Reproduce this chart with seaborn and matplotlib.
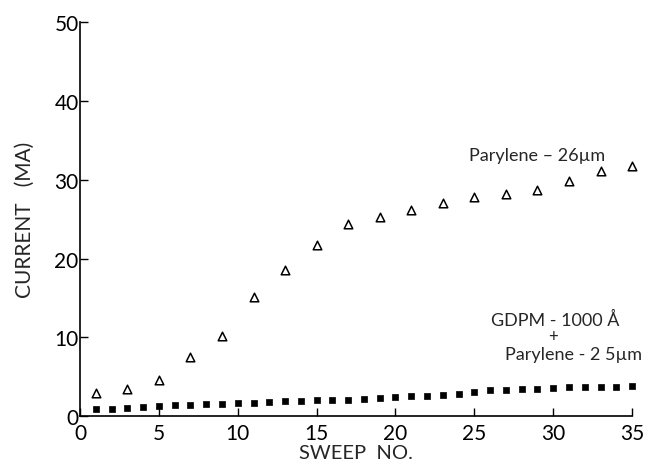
import numpy as np
import pandas as pd
import seaborn as sns
import matplotlib.pyplot as plt

# Barrido (sweep) y corriente
sweep_thick = [1, 3, 5, 7, 9, 11, 13, 15, 17, 19, 21, 23, 25, 27, 29, 31, 33, 35]
current_thick = [2.9, 3.4, 4.6, 7.5, 10.2, 15.1, 18.6, 21.7, 24.4, 25.3, 26.2,
                 27.0, 27.8, 28.2, 28.7, 29.8, 31.1, 31.7]

sweep_gdpm = list(range(1, 36))
current_gdpm = [0.9, 0.9, 1.0, 1.2, 1.3, 1.4, 1.4, 1.5, 1.6, 1.65, 1.65, 1.8,
                1.9, 1.95, 2.0, 2.1, 2.1, 2.2, 2.3, 2.4, 2.5, 2.6, 2.7, 2.8,
                3.1, 3.3, 3.3, 3.4, 3.45, 3.55, 3.65, 3.65, 3.7, 3.75, 3.85]

x_ticks = [0, 5, 10, 15, 20, 25, 30, 35]
y_ticks = [0, 10, 20, 30, 40, 50]

df_thick = pd.DataFrame({"sweep": sweep_thick, "current": current_thick})
df_gdpm = pd.DataFrame({"sweep": sweep_gdpm, "current": current_gdpm})

sns.set_style("ticks")
plt.rcParams['font.family'] = ['Lato', 'DejaVu Sans']

fig = plt.figure(figsize=(6.45, 4.64), dpi=100)
ax = fig.add_axes([0.124, 0.101, 0.856, 0.849])

sns.scatterplot(data=df_thick, x="sweep", y="current", marker="^", s=38,
                facecolor="white", edgecolor="black", linewidth=1.1,
                clip_on=False, ax=ax)
sns.scatterplot(data=df_gdpm, x="sweep", y="current", marker="s", s=14,
                color="black", edgecolor="black", linewidth=0.5,
                clip_on=False, ax=ax)

ax.set_xlim(0, 35)
ax.set_ylim(0, 50)
ax.set_xticks(x_ticks)
ax.set_yticks(y_ticks)
ax.tick_params(direction="in", length=6, width=1, labelsize=15, pad=5, colors="black")
ax.tick_params(axis="y", pad=1)
for s in ["top", "right"]:
    ax.spines[s].set_visible(False)
for s in ["left", "bottom"]:
    ax.spines[s].set_color("black")
    ax.spines[s].set_linewidth(1.2)

ax.set_xlabel("SWEEP  NO.", fontsize=14.5, labelpad=1)
ax.set_ylabel("CURRENT   (MA)", fontsize=15, labelpad=14)

ax.text(29.0, 33.2, "Parylene – 26µm", fontsize=13, ha="center", va="center")
ax.text(30.1, 12.3, "GDPM - 1000 Å", fontsize=13, ha="center", va="center")
ax.text(30.0, 10.2, "+", fontsize=12, ha="center", va="center")
ax.text(31.3, 7.9, "Parylene - 2 5µm", fontsize=13, ha="center", va="center")

fig.savefig("out.png", dpi=100)
